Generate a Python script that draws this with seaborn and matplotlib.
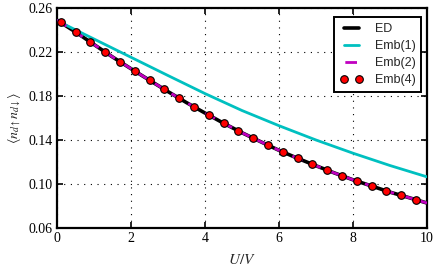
import numpy as np
import pandas as pd
import seaborn as sns
import matplotlib.pyplot as plt
from matplotlib.lines import Line2D

# ED / Emb(2) curve
u_line = [0, 0.5, 1, 1.5, 2, 2.5, 3, 3.5, 4, 4.5, 5, 5.5, 6, 6.5, 7, 7.5, 8, 8.5, 9, 9.5, 10]
ed = [0.249, 0.2382, 0.2268, 0.2155, 0.2048, 0.1943, 0.1840, 0.1740, 0.1645, 0.1553, 0.1466,
      0.1385, 0.1306, 0.1234, 0.1166, 0.1100, 0.1038, 0.0982, 0.0926, 0.0877, 0.0827]
emb2 = [0.249, 0.2382, 0.2268, 0.2155, 0.2048, 0.1943, 0.1840, 0.1740, 0.1645, 0.1553, 0.1466,
        0.1385, 0.1306, 0.1234, 0.1166, 0.1100, 0.1038, 0.0982, 0.0926, 0.0877, 0.0827]

# Emb(1)
u_emb1 = [0, 1, 2, 3, 4, 5, 6, 7, 8, 9, 10]
emb1 = [0.2485, 0.2318, 0.2152, 0.1986, 0.1822, 0.1668, 0.1530, 0.1400, 0.1280, 0.1168, 0.1065]

# Emb(4) markers
u_emb4 = [0.1, 0.5, 0.9, 1.3, 1.7, 2.1, 2.5, 2.9, 3.3, 3.7, 4.1, 4.5, 4.9,
          5.3, 5.7, 6.1, 6.5, 6.9, 7.3, 7.7, 8.1, 8.5, 8.9, 9.3, 9.7]
emb4 = [0.2470, 0.2382, 0.2291, 0.2197, 0.2112, 0.2027, 0.1943, 0.1861, 0.1779, 0.1700,
        0.1627, 0.1553, 0.1482, 0.1418, 0.1352, 0.1291, 0.1234, 0.1179, 0.1125, 0.1076,
        0.1025, 0.0982, 0.0936, 0.0897, 0.0857]

CYAN = '#00C0C0'
MAGENTA = '#C000C0'

sns.set_theme(style='ticks')
plt.rcParams['font.family'] = ['Liberation Serif', 'DejaVu Serif']
plt.rcParams['mathtext.fontset'] = 'stix'

fig = plt.figure(figsize=(4.36, 2.73), dpi=100)
ax = fig.add_axes([57 / 436, 1 - 228 / 273, 370 / 436, 220 / 273])

df_ed = pd.DataFrame({'x': u_line, 'y': ed})
df_e2 = pd.DataFrame({'x': u_line, 'y': emb2})
df_e1 = pd.DataFrame({'x': u_emb1, 'y': emb1})
df_e4 = pd.DataFrame({'x': u_emb4, 'y': emb4})

sns.lineplot(data=df_ed, x='x', y='y', color='black', lw=2.6, ax=ax, zorder=3)
sns.lineplot(data=df_e1, x='x', y='y', color=CYAN, lw=2.0, ax=ax, zorder=3)
sns.lineplot(data=df_e2, x='x', y='y', color=MAGENTA, lw=2.0, ax=ax, zorder=4)
ax.get_lines()[-1].set_dashes([4, 3])
sns.scatterplot(data=df_e4, x='x', y='y', color='red', edgecolor='black', linewidth=0.8,
                s=30, ax=ax, zorder=5)

ax.set_xlim(0, 10)
ax.set_ylim(0.06, 0.26)
ax.set_xticks([0, 2, 4, 6, 8, 10])
ax.set_yticks([0.06, 0.10, 0.14, 0.18, 0.22, 0.26])
ax.set_yticklabels(['0.06', '0.10', '0.14', '0.18', '0.22', '0.26'])
ax.tick_params(direction='in', top=True, right=True, length=4, width=1.2,
               labelsize=10, colors='black', pad=3)
ax.grid(True, color='black', linestyle=(0, (1, 5)), linewidth=0.8)
for s in ax.spines.values():
    s.set_linewidth(1.6)
    s.set_color('black')

ax.set_xlabel(r'$U/V$', fontsize=11, labelpad=6)
ax.set_ylabel(r'$\langle n_{d\uparrow}n_{d\downarrow}\rangle$', fontsize=10, labelpad=4)

# legend proxies (styled like the reference legend)
handles = [
    Line2D([], [], color='black', lw=2.6),
    Line2D([], [], color=CYAN, lw=2.0),
    Line2D([], [], color=MAGENTA, lw=2.0, linestyle=(0, (0, 0.3, 4.2, 10))),
    Line2D([], [], color='red', marker='o', markeredgecolor='black', markeredgewidth=0.8,
           markersize=5.5, linestyle='none'),
]
labels = ['ED', 'Emb(1)', 'Emb(2)', 'Emb(4)']
leg = ax.legend(handles, labels, loc='upper right', bbox_to_anchor=(0.995, 0.975),
                frameon=True, fancybox=False, numpoints=2,
                prop={'family': 'Liberation Sans', 'size': 9}, handlelength=1.8,
                borderpad=0.45, labelspacing=0.4, handletextpad=1.0, borderaxespad=0.3)
leg.get_frame().set_edgecolor('black')
leg.get_frame().set_linewidth(1.4)
leg.get_frame().set_alpha(1)

fig.savefig('out.png', dpi=100)
